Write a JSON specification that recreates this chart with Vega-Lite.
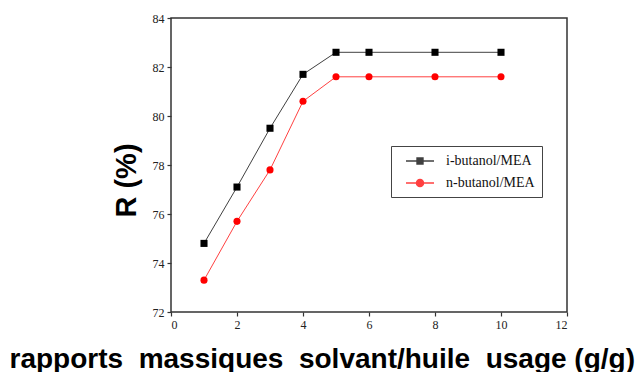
{
  "$schema": "https://vega.github.io/schema/vega-lite/v6.json",
  "width": 396,
  "height": 294,
  "autosize": {"type": "none"},
  "padding": {"left": 171, "top": 18, "right": 73, "bottom": 60},
  "background": "white",
  "config": {
    "view": {"stroke": "#333333", "strokeWidth": 1.5},
    "axis": {
      "grid": false,
      "domain": false,
      "tickColor": "#333333",
      "tickWidth": 1.2,
      "tickSize": 4,
      "labelFont": "Liberation Serif",
      "labelFontSize": 12,
      "labelColor": "#222222",
      "titleFont": "Liberation Sans",
      "titleFontWeight": "bold",
      "titleColor": "#000000"
    }
  },
  "data": {
    "values": [
      {"ratio": 1, "R": 74.8, "series": "i-butanol/MEA"},
      {"ratio": 2, "R": 77.1, "series": "i-butanol/MEA"},
      {"ratio": 3, "R": 79.5, "series": "i-butanol/MEA"},
      {"ratio": 4, "R": 81.7, "series": "i-butanol/MEA"},
      {"ratio": 5, "R": 82.6, "series": "i-butanol/MEA"},
      {"ratio": 6, "R": 82.6, "series": "i-butanol/MEA"},
      {"ratio": 8, "R": 82.6, "series": "i-butanol/MEA"},
      {"ratio": 10, "R": 82.6, "series": "i-butanol/MEA"},
      {"ratio": 1, "R": 73.3, "series": "n-butanol/MEA"},
      {"ratio": 2, "R": 75.7, "series": "n-butanol/MEA"},
      {"ratio": 3, "R": 77.8, "series": "n-butanol/MEA"},
      {"ratio": 4, "R": 80.6, "series": "n-butanol/MEA"},
      {"ratio": 5, "R": 81.6, "series": "n-butanol/MEA"},
      {"ratio": 6, "R": 81.6, "series": "n-butanol/MEA"},
      {"ratio": 8, "R": 81.6, "series": "n-butanol/MEA"},
      {"ratio": 10, "R": 81.6, "series": "n-butanol/MEA"}
    ]
  },
  "encoding": {
    "x": {
      "field": "ratio",
      "type": "quantitative",
      "scale": {"domain": [0, 12], "nice": false},
      "axis": {
        "values": [0, 2, 4, 6, 8, 10, 12],
        "labelPadding": 3,
        "title": "rapports \u00a0massiques \u00a0solvant/huile \u00a0usage (g/g)",
        "titleFontSize": 28,
        "titleAnchor": "start",
        "titleAlign": "left",
        "titleBaseline": "alphabetic",
        "titleX": -162,
        "titleY": 55
      }
    },
    "y": {
      "field": "R",
      "type": "quantitative",
      "scale": {"domain": [72, 84], "nice": false, "zero": false},
      "axis": {
        "values": [72, 74, 76, 78, 80, 82, 84],
        "labelPadding": 3,
        "title": "R (%)",
        "titleFontSize": 29,
        "titleAngle": -90,
        "titleAlign": "center",
        "titleBaseline": "alphabetic",
        "titleX": -36,
        "titleY": 162
      }
    },
    "color": {
      "field": "series",
      "type": "nominal",
      "scale": {"domain": ["i-butanol/MEA", "n-butanol/MEA"], "range": ["#000000", "#ff0000"]},
      "legend": {
        "title": null,
        "orient": "none",
        "legendX": 220,
        "legendY": 128,
        "direction": "vertical",
        "padding": 7,
        "strokeColor": "#444444",
        "fillColor": "white",
        "rowPadding": 7,
        "symbolSize": 196,
        "symbolOffset": 14,
        "symbolType": {"expr": "datum.value === 'i-butanol/MEA' ? 'M-2,0H2M-0.42,-0.42H0.42V0.42H-0.42Z' : 'M-2,0H2M0.5,0A0.5,0.5 0 1,1 -0.5,0A0.5,0.5 0 1,1 0.5,0Z'"},
        "labelFont": "Liberation Serif",
        "labelFontSize": 14,
        "labelColor": "#111111",
        "labelOffset": 18,
        "labelLimit": 200,
        "encode": {
          "symbols": {
            "update": {
              "stroke": {"signal": "datum.value === 'i-butanol/MEA' ? '#333333' : '#ff0000'"},
              "fill": {"signal": "datum.value === 'i-butanol/MEA' ? '#000000' : '#ff0000'"},
              "strokeWidth": {"value": 1},
              "opacity": {"value": 1}
            }
          }
        }
      }
    }
  },
  "layer": [
    {
      "mark": {"type": "line", "strokeWidth": 1, "opacity": 0.75}
    },
    {
      "mark": {"type": "point", "filled": true, "opacity": 1, "size": 50},
      "encoding": {
        "shape": {
          "field": "series",
          "type": "nominal",
          "scale": {"domain": ["i-butanol/MEA", "n-butanol/MEA"], "range": ["square", "circle"]},
          "legend": null
        }
      }
    }
  ],
  "resolve": {"legend": {"shape": "independent"}}
}
